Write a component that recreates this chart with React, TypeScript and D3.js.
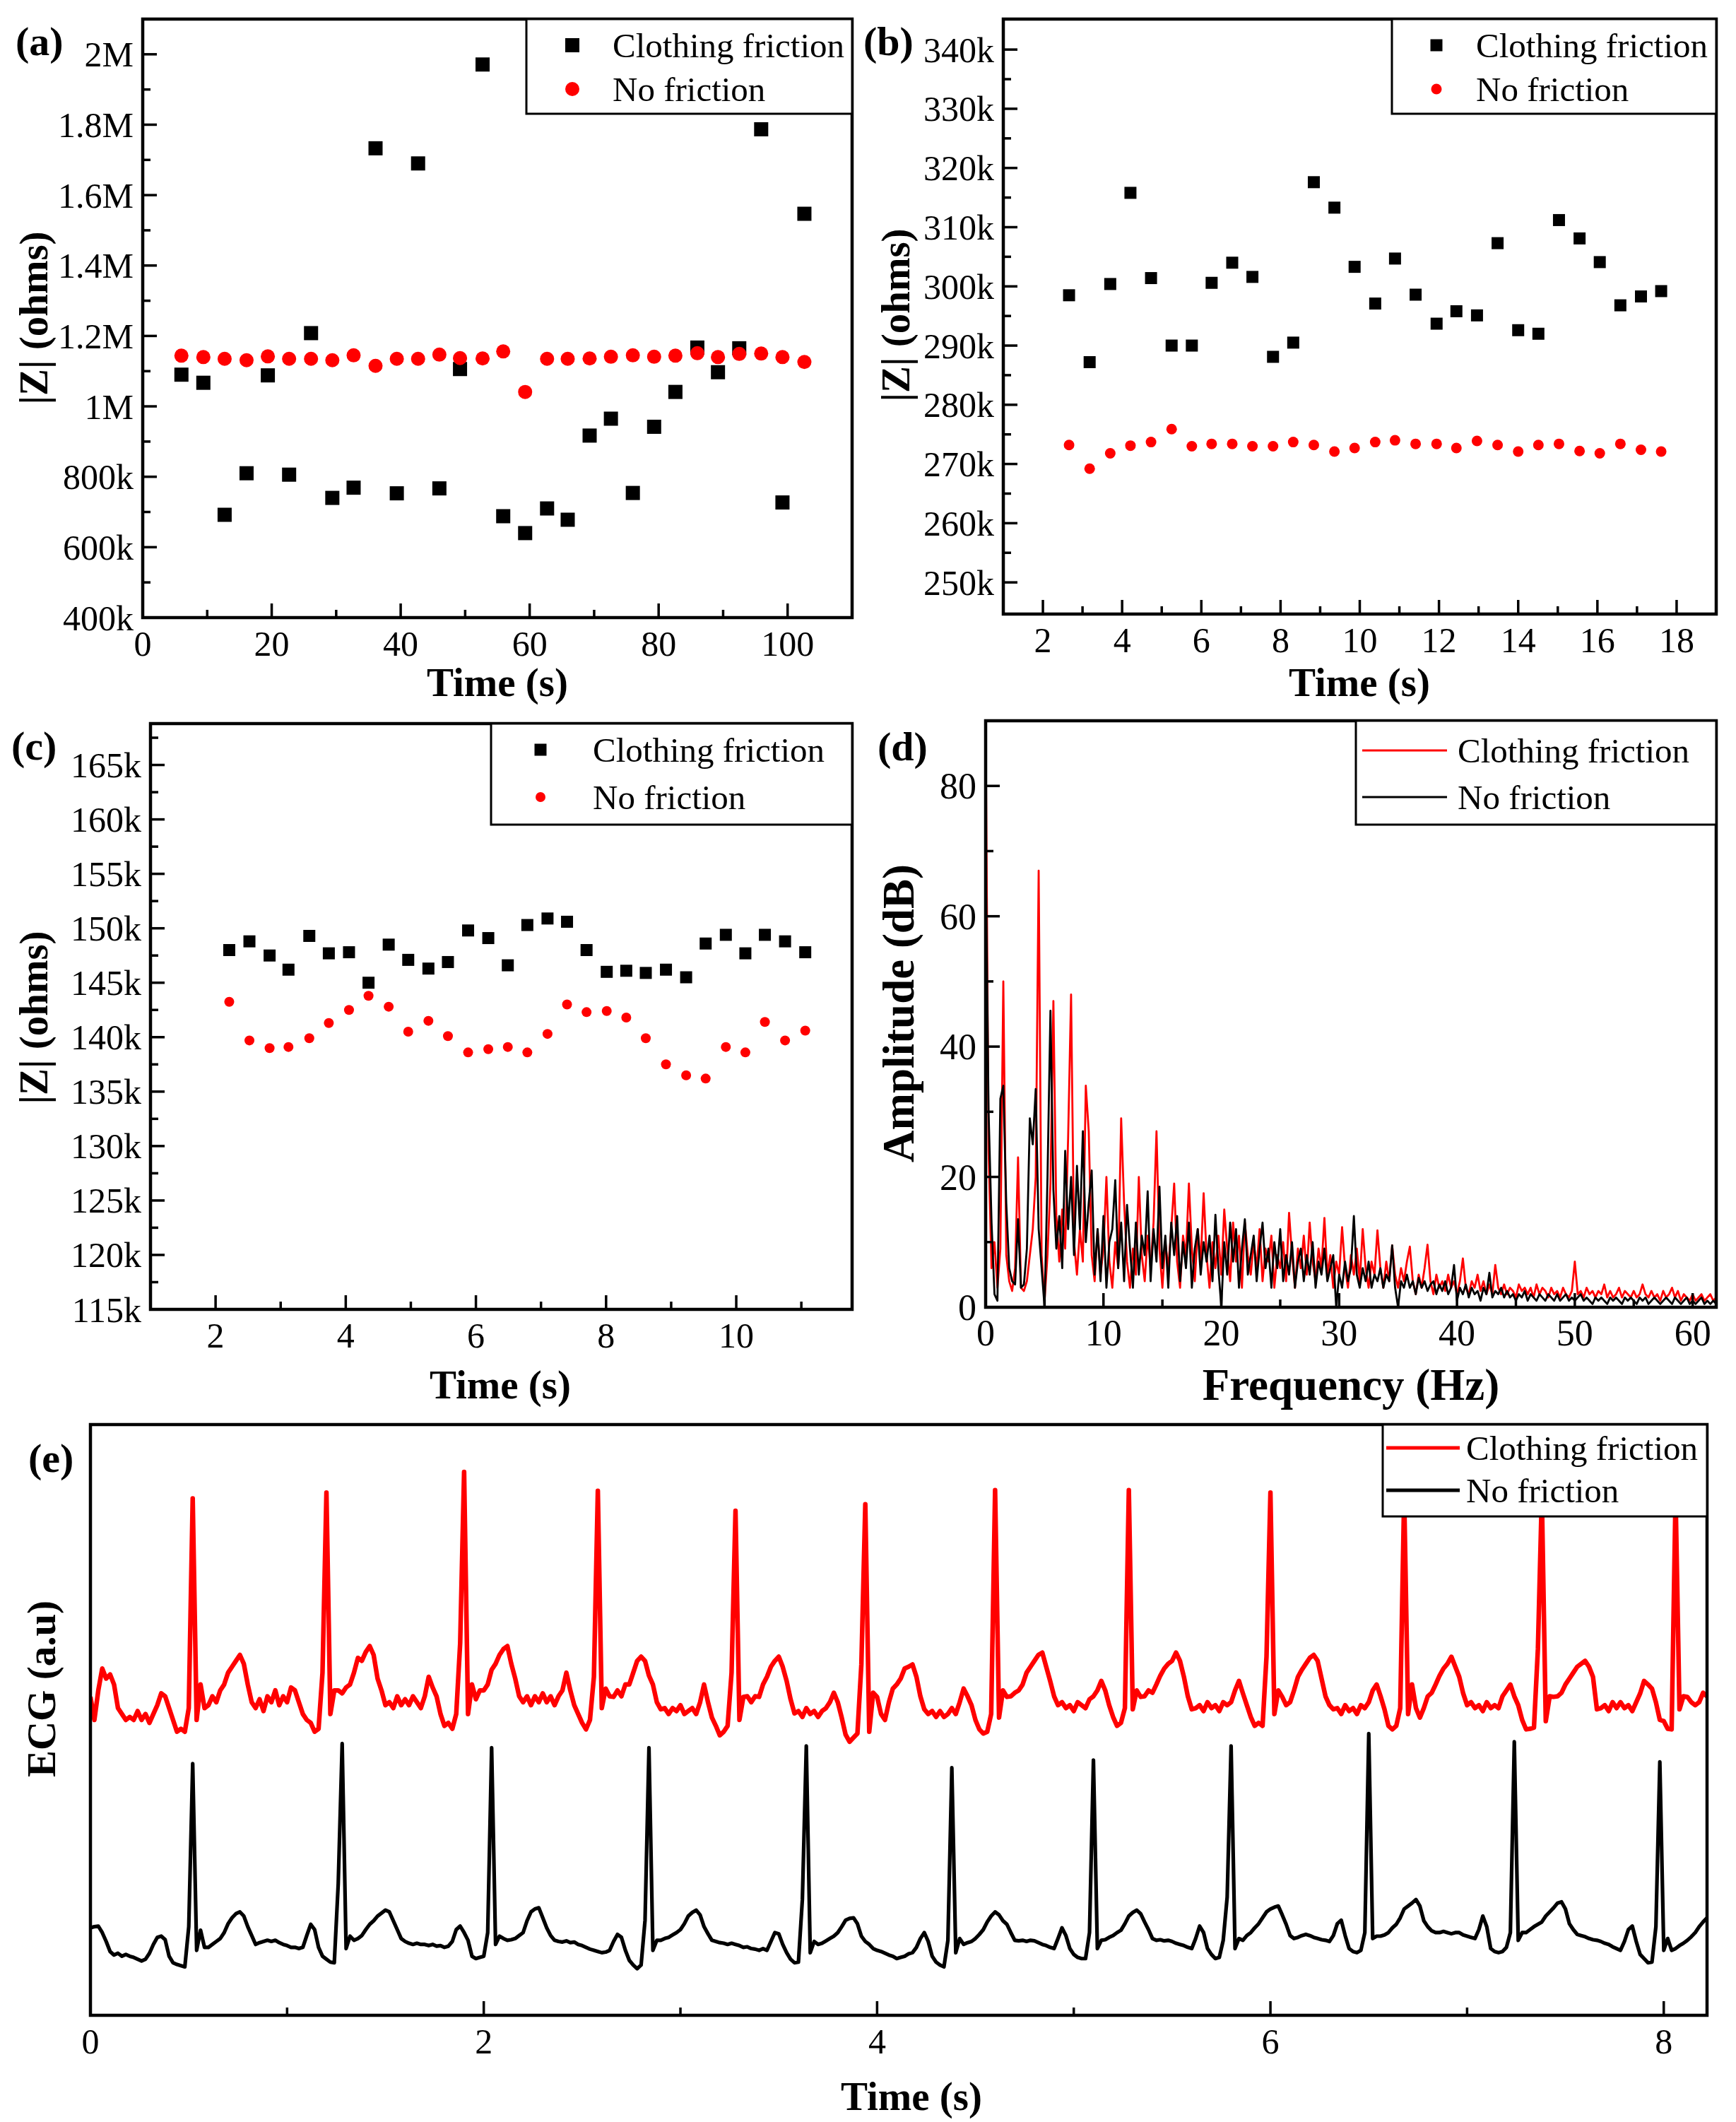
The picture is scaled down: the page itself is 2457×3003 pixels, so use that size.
import * as d3 from "d3";

const FONT = "'Liberation Serif', 'Times New Roman', serif";
const RED = "#ff0000";

// ---------- (a) long recording, |Z| in kOhm
const aTime = [6.0, 9.4, 12.7, 16.1, 19.4, 22.7, 26.1, 29.4, 32.7, 36.1, 39.4, 42.7, 46.0, 49.2, 52.7, 55.9, 59.3, 62.7, 65.9, 69.3, 72.6, 76.0, 79.3, 82.6, 86.0, 89.2, 92.5, 95.9, 99.2, 102.6];
const aCloth = [1090, 1067, 692, 810, 1088, 806, 1208, 740, 769, 1733, 753, 1690, 767, 1106, 1971, 688, 640, 710, 678, 917, 965, 754, 942, 1041, 1167, 1097, 1165, 1787, 727, 1547];
const aNoFric = [1144, 1140, 1135, 1131, 1142, 1135, 1135, 1131, 1145, 1115, 1135, 1135, 1147, 1137, 1136, 1156, 1041, 1135, 1135, 1136, 1141, 1145, 1141, 1144, 1151, 1140, 1149, 1150, 1140, 1126];
const aXTicks = [0, 20, 40, 60, 80, 100];
const aXMinor = [10, 30, 50, 70, 90];
const aYTicks = [400, 600, 800, 1000, 1200, 1400, 1600, 1800, 2000];
const aYLabels = ["400k", "600k", "800k", "1M", "1.2M", "1.4M", "1.6M", "1.8M", "2M"];
const aYMinor = [500, 700, 900, 1100, 1300, 1500, 1700, 1900];

// ---------- (b)
const bTime = [2.66, 3.18, 3.70, 4.21, 4.73, 5.25, 5.76, 6.26, 6.78, 7.29, 7.81, 8.32, 8.84, 9.36, 9.87, 10.39, 10.89, 11.41, 11.94, 12.44, 12.96, 13.48, 14.00, 14.51, 15.03, 15.55, 16.06, 16.58, 17.10, 17.61];
const bCloth = [298.5, 287.2, 300.4, 315.8, 301.4, 290.0, 290.0, 300.6, 304.0, 301.6, 288.1, 290.5, 317.6, 313.3, 303.3, 297.1, 304.7, 298.6, 293.7, 295.8, 295.1, 307.3, 292.6, 292.0, 311.2, 308.1, 304.1, 296.8, 298.3, 299.2];
const bNoFric = [273.2, 269.2, 271.8, 273.1, 273.7, 275.9, 273.0, 273.4, 273.4, 273.0, 273.0, 273.7, 273.2, 272.1, 272.7, 273.7, 274.0, 273.4, 273.4, 272.7, 273.9, 273.2, 272.1, 273.2, 273.4, 272.2, 271.8, 273.4, 272.4, 272.1];
const bXTicks = [2, 4, 6, 8, 10, 12, 14, 16, 18];
const bXMinor = [3, 5, 7, 9, 11, 13, 15, 17];
const bYTicks = [250, 260, 270, 280, 290, 300, 310, 320, 330, 340];
const bYLabels = ["250k", "260k", "270k", "280k", "290k", "300k", "310k", "320k", "330k", "340k"];
const bYMinor = [255, 265, 275, 285, 295, 305, 315, 325, 335];

// ---------- (c)
const cTime = [2.21, 2.52, 2.83, 3.12, 3.44, 3.74, 4.05, 4.35, 4.66, 4.96, 5.27, 5.57, 5.88, 6.19, 6.49, 6.79, 7.10, 7.40, 7.70, 8.01, 8.31, 8.61, 8.92, 9.23, 9.53, 9.84, 10.14, 10.44, 10.75, 11.06];
const cCloth = [148.0, 148.8, 147.5, 146.2, 149.3, 147.7, 147.8, 145.0, 148.5, 147.1, 146.3, 146.9, 149.8, 149.1, 146.6, 150.3, 150.9, 150.6, 148.0, 146.0, 146.1, 145.9, 146.2, 145.5, 148.6, 149.4, 147.7, 149.4, 148.8, 147.8];
const cNoFric = [143.25, 139.7, 139.0, 139.1, 139.9, 141.3, 142.5, 143.8, 142.8, 140.5, 141.5, 140.1, 138.6, 138.9, 139.1, 138.6, 140.3, 143.0, 142.3, 142.4, 141.8, 139.9, 137.5, 136.5, 136.2, 139.1, 138.6, 141.4, 139.7, 140.6];
const cXTicks = [2, 4, 6, 8, 10];
const cXMinor = [3, 5, 7, 9, 11];
const cYTicks = [115, 120, 125, 130, 135, 140, 145, 150, 155, 160, 165];
const cYLabels = ["115k", "120k", "125k", "130k", "135k", "140k", "145k", "150k", "155k", "160k", "165k"];
const cYMinor = [117.5, 122.5, 127.5, 132.5, 137.5, 142.5, 147.5, 152.5, 157.5, 162.5, 167.5];

// ---------- (d) amplitude spectrum, one value every 0.25 Hz from 0 to 62 Hz
const specStep = 0.25;
const specCloth = [
  90, 24, 6, 10, 3, 9, 50, 8, 4, 2.5, 6, 23, 3, 2.5, 4, 8, 12, 20, 67, 8,
  1, 8, 19, 47, 14, 7, 15, 9, 26, 48, 10, 5, 12, 7, 34, 27, 8, 4, 12, 5,
  9, 20, 7, 3, 10, 6, 29, 16, 7, 3, 9, 5, 20, 8, 4, 11, 6, 13, 27, 9,
  3, 10, 6, 12, 19, 7, 3, 11, 8, 19, 9, 4, 12, 7, 17.5, 8, 3, 10, 6, 11,
  5, 15, 9, 4, 13, 7, 11, 3, 13, 8, 5, 10, 6, 12, 4, 9, 7, 11, 3, 8,
  6, 10, 4, 14.5, 8, 3, 9, 6, 11, 5, 13, 7, 4, 9, 6, 13.7, 5, 8, 3, 7,
  5, 12.3, 6, 3, 8, 5, 9, 4, 12, 6, 3, 7, 5, 11.8, 6, 3, 7, 4, 9.5, 5,
  3, 6, 4, 7, 9.3, 4, 2, 5, 3, 6, 9.6, 4, 2, 5, 3, 4, 2.5, 5, 3, 4,
  2, 4, 7.5, 3, 2, 4, 3, 5, 2.5, 4, 2, 3.5, 2, 6.5, 3, 2, 3.5, 2, 3, 2.5,
  1.5, 3.5, 2.5, 3, 2, 3, 1.5, 3.5, 2, 3, 2.5, 1.5, 3, 2, 2.5, 1.5, 3, 2, 1.5, 2.5,
  7, 2, 2.5, 1.5, 3, 2, 2.5, 1.5, 2.5, 2, 3.5, 1.5, 2.5, 1.5, 2, 3, 1.5, 2.5, 2, 1.5,
  2.5, 1.5, 2, 3.5, 2, 1.5, 2.5, 1.5, 2, 1, 2.5, 1.5, 2, 3, 1.5, 2.5, 1, 2, 1.5, 1,
  2, 1, 1.5, 2, 1, 1.5, 2, 1, 1.5,
];
const specNoFric = [
  70, 30, 13, 2, 1, 32, 34, 16, 6, 4, 3.5, 13.5, 3, 3.5, 9, 29, 25, 33.5, 12, 6,
  0, 20, 45.5, 18, 9, 14, 6, 24, 12, 20, 8, 21.7, 12, 27, 10, 16, 21, 5, 12, 4,
  14, 3, 10, 12, 19.5, 6, 13, 4, 15.7, 9, 3, 13, 5, 11, 8, 17.8, 4, 12, 7, 18.5,
  6, 11, 3, 13, 8, 14, 4, 10, 6, 13, 3, 9, 12, 5, 10, 7, 11, 4, 14.2, 6,
  0, 10, 5, 13, 7, 12, 3, 9, 13.5, 5, 8, 11, 4, 9, 13, 6, 9, 3, 10, 6,
  12, 4, 8, 5, 10, 3, 7, 9, 4, 8, 5, 10, 3, 7, 5, 9, 4, 6, 8, 0,
  5, 3, 7, 4, 6, 14, 5, 3, 6, 4, 7, 3, 5, 4, 6, 3, 5, 4, 9.5, 3,
  0, 4, 3, 5, 3, 4, 2, 4.5, 3, 4, 2.5, 3.5, 4, 2, 3.5, 2.5, 4, 2, 3, 6.5,
  1, 3, 2, 3.5, 1.5, 3, 2, 2.5, 1, 3, 2, 5.3, 1.5, 2.5, 2, 3, 1.5, 2.5, 1.5, 2,
  1, 2, 1.5, 2.5, 1, 2, 1.5, 1, 2, 1.5, 1, 2, 1.5, 1, 2, 1, 1.5, 2, 1, 1.5,
  1, 1.5, 2, 1, 1.5, 1, 0.5, 1.5, 1, 1.5, 1, 0.5, 1.5, 1, 1.5, 1, 0.5, 1.5, 1, 1.5,
  1, 0.5, 1.5, 1, 1.5, 0.5, 1, 1.5, 1, 0.5, 1, 1.5, 1, 0.5, 1.5, 1, 0.5, 1, 1.5, 0.5,
  1, 0.5, 1, 1.5, 0.5, 1, 0.5, 1, 0.5,
];
const dXTicks = [0, 10, 20, 30, 40, 50, 60];
const dXMinor = [5, 15, 25, 35, 45, 55];
const dYTicks = [0, 20, 40, 60, 80];
const dYMinor = [10, 30, 50, 70];

// ---------- (e) ECG traces (a.u.), one sample every 0.02 s
const ecgStep = 0.02;
const ecgCloth = [
  53.9, 50, 55, 58.7, 57, 57.7, 56, 52, 51, 50,
  50.5, 50, 51.5, 50, 51, 49.5, 51, 52.5, 54.5, 54,
  52, 50, 48, 48.5, 48, 52, 87.5, 50, 56, 52,
  52.5, 54, 53, 55, 56, 58, 59, 60, 61, 59.5,
  56, 53, 52, 53.5, 51.5, 54, 53, 55, 52.5, 54,
  53, 55.5, 55, 53, 51, 50, 49.5, 48, 48.5, 58,
  88.5, 51, 55, 55, 54.5, 55.5, 56, 58, 60.5, 60,
  61.5, 62.5, 61, 57, 55, 52.5, 53, 52, 54, 52.5,
  53.5, 52.5, 54, 53, 52, 54, 57.3, 55.5, 54, 51,
  49, 49.5, 48.5, 51, 63, 92, 51, 56, 53.5, 55,
  55, 56, 58.5, 59.5, 61, 62, 62.5, 59.5, 57, 54,
  53, 54, 52.5, 54, 53, 54.5, 53, 54, 52.5, 54,
  55, 58, 55, 52.5, 51, 49.5, 48.4, 50, 57.3, 88.8,
  52, 55.3, 54, 53.9, 55, 54, 56, 56, 58, 60,
  60.7, 60, 57.5, 56, 53, 51.8, 52, 51, 52, 51.5,
  52.5, 51, 51.5, 52, 51, 53, 56, 53, 50.4, 49,
  47.4, 48, 49, 58, 85.4, 50, 53.9, 54, 53, 54,
  53.9, 56, 57.3, 59, 60, 60.7, 59, 56.6, 53.5, 51.1,
  51.5, 50.5, 52, 51, 51.5, 50.5, 51.5, 52, 53, 54.6,
  53, 50.4, 47.5, 46.3, 47, 47.7, 59.4, 86.5, 48, 54.6,
  53.9, 51, 50, 53, 55.3, 56, 57, 58.7, 59, 59.4,
  57.3, 54, 51.8, 51, 51.5, 50.5, 51.5, 50.5, 51, 52,
  51, 53, 55.3, 54, 52.5, 50, 48.4, 47.7, 48, 51,
  88.9, 50.4, 55, 53.9, 54, 54.6, 55, 56, 58, 59,
  60, 61, 61.4, 59, 56.6, 54, 52.5, 53, 52, 52.5,
  51.5, 53, 52.5, 52, 53.5, 54, 55, 56.6, 55, 52.5,
  50.5, 49, 49.5, 52, 88.9, 51.8, 55, 53.9, 54, 55,
  54.6, 56, 57.5, 58.7, 59.5, 60, 61.4, 60, 57.3, 54,
  51.8, 52, 52.5, 51.5, 53, 52, 52.5, 51.5, 53, 52.5,
  53, 55, 56.6, 54.5, 52.5, 50.5, 49, 49.5, 49, 60.7,
  88.5, 51, 55, 53.9, 52.5, 53, 55, 57.3, 58.5, 59.5,
  60.5, 61, 60, 57, 54, 52.5, 51.8, 52, 51, 52.5,
  51.5, 52, 51, 52.5, 52, 53, 55, 56, 54, 51.8,
  49, 48.4, 49, 52, 88, 51, 56, 52, 50.4, 52,
  54, 54.6, 56, 57.5, 58.7, 59.5, 60.7, 59, 57.3, 54.5,
  52.5, 53, 52, 52.5, 51.5, 53, 52, 52.5, 52, 54,
  55, 56, 54, 52.5, 50, 48.4, 48.5, 48.7, 62, 88,
  49.8, 54, 53.9, 54, 54.6, 56, 57, 58, 59, 59.5,
  60, 59, 57.3, 51.8, 52, 52.5, 51.5, 53, 52, 53,
  52, 52.5, 51.5, 53, 54.5, 56.6, 56, 55.3, 53, 50,
  49.8, 48.5, 48.4, 88, 51.8, 54, 53.9, 53, 52.5, 53,
  54.6, 54,
];
const ecgNoFric = [
  14.8, 15, 15.1, 14, 12.5, 10.8, 10.2, 10.5, 10, 10.3,
  10, 9.8, 9.5, 9.2, 9.5, 10.5, 12, 13.2, 13.4, 12.8,
  10, 8.9, 8.6, 8.4, 8.2, 15, 42.6, 11, 14.4, 11.5,
  11.5, 12, 12.5, 13, 14, 15.5, 16.5, 17.2, 17.5, 16.8,
  15, 13.5, 12, 12.3, 12.5, 12.7, 12.5, 12.7, 12.3, 12,
  11.8, 11.5, 11.5, 11.3, 11.5, 13.5, 15.4, 14.5, 11.5, 10,
  9.5, 9, 8.9, 22.3, 46, 11.3, 13.4, 12.7, 13, 13.5,
  14.5, 15.4, 16, 16.8, 17.3, 17.8, 17.5, 16, 14.5, 13,
  12.5, 12.2, 12, 12.2, 12, 12, 11.8, 12, 11.7, 11.8,
  11.5, 11.7, 12.5, 14.5, 15.1, 14, 12.7, 10, 9.6, 9.8,
  10, 14, 45.3, 12, 13.4, 13, 12.7, 12.8, 13, 13.5,
  14, 16, 17.5, 18, 18.2, 16.5, 14.8, 13.5, 12.7, 12.5,
  12.4, 12.6, 12.3, 12.4, 12, 11.8, 11.5, 11.2, 11, 10.8,
  10.6, 10.7, 11, 12.5, 13.7, 13.2, 11, 9.3, 8.5, 7.9,
  8.5, 16.1, 45.3, 11, 12.7, 12.7, 13, 13.2, 13.6, 14,
  14.5, 15.5, 16.8, 17.4, 17.8, 17, 15, 13.8, 12.7, 12.5,
  12.3, 12.2, 12, 12.2, 12, 11.8, 11.5, 11.6, 11.3, 11.2,
  11, 11.3, 11, 12.5, 14, 13.8, 12, 10.6, 9.5, 8.9,
  9, 19.6, 45.6, 10.6, 12.5, 12, 12.2, 12.6, 13, 13.4,
  14, 15, 16.1, 16.4, 16.5, 15.5, 13.4, 12.5, 12, 11.3,
  11, 10.8, 10.5, 10.2, 10, 9.6, 9.8, 10, 10.4, 10.6,
  11.5, 13, 14, 12.5, 10, 9, 8.5, 8.2, 12.7, 41.9,
  10.6, 13, 12, 12.3, 12.5, 13, 13.7, 14.5, 15.8, 16.8,
  17.5, 17, 16, 15.4, 14, 12.7, 12.6, 12.7, 12.5, 12.7,
  12.6, 12.3, 12, 11.8, 11.5, 11.3, 13, 14.8, 13.5, 11.3,
  10.3, 9.8, 9.6, 9.6, 14, 43.2, 11.3, 12.7, 12.8, 13.2,
  13.5, 14, 14.4, 15.5, 16.8, 17.4, 17.8, 17.2, 15.8, 14.5,
  13, 12.7, 12.8, 12.6, 12.7, 12.5, 12.2, 12, 11.8, 11.5,
  11.3, 13, 15.1, 14, 11.3, 10.3, 9.6, 9.8, 12.7, 20,
  45.6, 11.3, 13, 12.7, 13.5, 14, 14.8, 15.5, 16.5, 17.5,
  18, 18.3, 18.5, 17, 15.4, 13.5, 13, 13.2, 13.5, 13.7,
  13.5, 13.2, 13, 12.8, 12.7, 12.5, 13.5, 15.5, 16.1, 13.5,
  11.3, 10.8, 10.6, 11, 14, 47.7, 13, 13.4, 13.4, 13.6,
  14, 14.8, 15.4, 16.5, 18, 18.5, 19, 19.6, 18.5, 16,
  15, 14.3, 14, 14, 14.2, 14, 13.8, 14, 14, 13.6,
  13.4, 13.2, 13, 14.5, 16.8, 15, 11.3, 10.8, 10.6, 10.8,
  11.5, 14, 46.3, 12.7, 14, 14, 14.5, 15, 15.4, 15.8,
  16.8, 17.5, 18.2, 19, 19.2, 18, 15.5, 14.5, 13.7, 13.5,
  13.3, 13, 12.8, 12.7, 12.5, 12.2, 12, 11.6, 11.3, 11,
  12.5, 14.5, 15.1, 12.5, 10.3, 9.6, 8.9, 9, 15, 42.9,
  11, 13, 11, 11.3, 11.8, 12.2, 12.7, 13.3, 14, 15,
  15.8, 16.5,
];
const eXTicks = [0, 2, 4, 6, 8];
const eXMinor = [1, 3, 5, 7];

const seriesNames = ["Clothing friction", "No friction"];

type Box = { x0: number; x1: number; y0: number; y1: number };

function Axes({ box, x, y, xTicks, xLabels, xMinor, yTicks, yLabels, yMinor, fs = 50 }: any) {
  const TL = 20, TM = 11, SW = 3.5;
  return (
    <g fontFamily={FONT} fill="#000">
      {xMinor.map((t: number) => (
        <line key={"xm" + t} x1={x(t)} x2={x(t)} y1={box.y1} y2={box.y1 - TM} stroke="#000" strokeWidth={SW} />
      ))}
      {xTicks.map((t: number, i: number) => (
        <g key={"xt" + t}>
          <line x1={x(t)} x2={x(t)} y1={box.y1} y2={box.y1 - TL} stroke="#000" strokeWidth={SW} />
          <text x={x(t)} y={box.y1 + 54} textAnchor="middle" fontSize={fs}>{xLabels[i]}</text>
        </g>
      ))}
      {yMinor.map((t: number) => (
        <line key={"ym" + t} x1={box.x0} x2={box.x0 + TM} y1={y(t)} y2={y(t)} stroke="#000" strokeWidth={SW} />
      ))}
      {yTicks.map((t: number, i: number) => (
        <g key={"yt" + t}>
          <line x1={box.x0} x2={box.x0 + TL} y1={y(t)} y2={y(t)} stroke="#000" strokeWidth={SW} />
          <text x={box.x0 - 13} y={y(t)} dy="0.35em" textAnchor="end" fontSize={fs}>{yLabels[i]}</text>
        </g>
      ))}
      <rect x={box.x0} y={box.y0} width={box.x1 - box.x0} height={box.y1 - box.y0} fill="none" stroke="#000" strokeWidth={4.5} />
    </g>
  );
}

function Legend({ lg, kind, sq = 18, r = 8, lw = 3 }: any) {
  const rows = [lg.r1, lg.r2];
  return (
    <g fontFamily={FONT}>
      <rect x={lg.x0} y={lg.y0} width={lg.x1 - lg.x0} height={lg.y1 - lg.y0} fill="#fff" stroke="#000" strokeWidth={3} />
      {kind === "marker" ? (
        <>
          <rect x={lg.mx - sq / 2} y={rows[0] - sq / 2} width={sq} height={sq} fill="#000" />
          <circle cx={lg.mx} cy={rows[1]} r={r} fill={RED} />
        </>
      ) : (
        <>
          <line x1={lg.lx0} x2={lg.lx1} y1={rows[0]} y2={rows[0]} stroke={RED} strokeWidth={lw} />
          <line x1={lg.lx0} x2={lg.lx1} y1={rows[1]} y2={rows[1]} stroke="#000" strokeWidth={lw} />
        </>
      )}
      {seriesNames.map((s, i) => (
        <text key={s} x={lg.tx} y={rows[i]} dy="0.35em" fontSize={49}>{s}</text>
      ))}
    </g>
  );
}

function Titles({ label, xTitle, yTitle, fs = 57 }: any) {
  return (
    <g fontFamily={FONT} fontWeight="bold">
      <text x={label.x} y={label.y} fontSize={58}>{label.text}</text>
      <text x={xTitle.x} y={xTitle.y} textAnchor="middle" fontSize={fs}>{xTitle.text}</text>
      <text x={yTitle.x} y={yTitle.y} dy="0.35em" textAnchor="middle" fontSize={fs}
        transform={`rotate(-90, ${yTitle.x}, ${yTitle.y})`}>{yTitle.text}</text>
    </g>
  );
}

function ScatterPanel(p: any) {
  const box: Box = p.box;
  const x = d3.scaleLinear().domain(p.xDomain).range([box.x0, box.x1]);
  const y = d3.scaleLinear().domain(p.yDomain).range([box.y1, box.y0]);
  return (
    <g>
      <Axes box={box} x={x} y={y} xTicks={p.xTicks} xLabels={p.xTicks.map(String)} xMinor={p.xMinor}
        yTicks={p.yTicks} yLabels={p.yLabels} yMinor={p.yMinor} />
      {p.time.map((t: number, i: number) => (
        <rect key={"s" + i} x={x(t) - p.sq / 2} y={y(p.cloth[i]) - p.sq / 2} width={p.sq} height={p.sq} fill="#000" />
      ))}
      {p.time.map((t: number, i: number) => (
        <circle key={"c" + i} cx={x(t)} cy={y(p.noFric[i])} r={p.r} fill={RED} />
      ))}
      <Legend lg={p.legend} kind="marker" sq={p.legendSq} r={p.legendR} />
      <Titles label={p.label} xTitle={{ ...p.xTitle, text: "Time (s)" }} yTitle={{ ...p.yTitle, text: "|Z| (ohms)" }} />
    </g>
  );
}

function SpectrumPanel() {
  const box: Box = { x0: 1395, x1: 2429, y0: 1020, y1: 1850 };
  const x = d3.scaleLinear().domain([0, 62]).range([box.x0, box.x1]);
  const y = d3.scaleLinear().domain([0, 90]).range([box.y1, box.y0]);
  const line = d3.line<number>().x((_, i) => x(i * specStep)).y((v) => y(v));
  return (
    <g>
      <clipPath id="clipD"><rect x={box.x0} y={box.y0} width={box.x1 - box.x0} height={box.y1 - box.y0} /></clipPath>
      <g clipPath="url(#clipD)" fill="none" strokeLinejoin="round">
        <path d={line(specCloth) || ""} stroke={RED} strokeWidth={2.8} />
        <path d={line(specNoFric) || ""} stroke="#000" strokeWidth={2.8} />
      </g>
      <Axes box={box} x={x} y={y} xTicks={dXTicks} xLabels={dXTicks.map(String)} xMinor={dXMinor}
        yTicks={dYTicks} yLabels={dYTicks.map(String)} yMinor={dYMinor} fs={52} />
      <Legend lg={{ x0: 1919, x1: 2429, y0: 1020, y1: 1167, lx0: 1928, lx1: 2048, tx: 2063, r1: 1062, r2: 1128 }} kind="line" lw={2.8} />
      <Titles label={{ x: 1242, y: 1076, text: "(d)" }}
        xTitle={{ x: 1912, y: 1981, text: "Frequency (Hz)" }}
        yTitle={{ x: 1271, y: 1434, text: "Amplitude (dB)" }} fs={63} />
    </g>
  );
}

function EcgPanel() {
  const box: Box = { x0: 128, x1: 2416, y0: 2016, y1: 2852 };
  const x = d3.scaleLinear().domain([0, 8.22]).range([box.x0, box.x1]);
  const y = d3.scaleLinear().domain([0, 100]).range([box.y1, box.y0]);
  const line = d3.line<number>().x((_, i) => x(i * ecgStep)).y((v) => y(v));
  return (
    <g>
      <clipPath id="clipE"><rect x={box.x0} y={box.y0} width={box.x1 - box.x0} height={box.y1 - box.y0} /></clipPath>
      <g clipPath="url(#clipE)" fill="none" strokeLinejoin="round">
        <path d={line(ecgCloth) || ""} stroke={RED} strokeWidth={6.5} />
        <path d={line(ecgNoFric) || ""} stroke="#000" strokeWidth={5.2} />
      </g>
      <Axes box={box} x={x} y={y} xTicks={eXTicks} xLabels={eXTicks.map(String)} xMinor={eXMinor}
        yTicks={[]} yLabels={[]} yMinor={[]} />
      <Legend lg={{ x0: 1957, x1: 2416, y0: 2016, y1: 2146, lx0: 1962, lx1: 2066, tx: 2075, r1: 2049, r2: 2109 }} kind="line" lw={5} />
      <Titles label={{ x: 40, y: 2083, text: "(e)" }}
        xTitle={{ x: 1290, y: 2986, text: "Time (s)" }}
        yTitle={{ x: 58, y: 2390, text: "ECG (a.u)" }} />
    </g>
  );
}

export default function App() {
  return (
    <svg width={2457} height={3003} viewBox="0 0 2457 3003" fontFamily={FONT}
      style={{ position: "absolute", left: 0, top: 0, display: "block" }}>
      <rect width={2457} height={3003} fill="#fff" />
      <ScatterPanel
        box={{ x0: 202, x1: 1206, y0: 27, y1: 874 }}
        xDomain={[0, 110]} yDomain={[400, 2100]}
        xTicks={aXTicks} xMinor={aXMinor} yTicks={aYTicks} yLabels={aYLabels} yMinor={aYMinor}
        time={aTime} cloth={aCloth} noFric={aNoFric} sq={20} r={10}
        legend={{ x0: 745, x1: 1206, y0: 27, y1: 161, mx: 810, tx: 867, r1: 64, r2: 126 }} legendSq={20} legendR={10}
        label={{ x: 22, y: 78, text: "(a)" }} xTitle={{ x: 704, y: 985 }} yTitle={{ x: 47, y: 450 }} />
      <ScatterPanel
        box={{ x0: 1420, x1: 2429, y0: 27, y1: 869 }}
        xDomain={[1, 19]} yDomain={[244.65, 345.15]}
        xTicks={bXTicks} xMinor={bXMinor} yTicks={bYTicks} yLabels={bYLabels} yMinor={bYMinor}
        time={bTime} cloth={bCloth} noFric={bNoFric} sq={17} r={7.5}
        legend={{ x0: 1970, x1: 2429, y0: 27, y1: 161, mx: 2033, tx: 2089, r1: 64, r2: 126 }} legendSq={17} legendR={7.5}
        label={{ x: 1222, y: 78, text: "(b)" }} xTitle={{ x: 1924, y: 985 }} yTitle={{ x: 1267, y: 446 }} />
      <ScatterPanel
        box={{ x0: 213, x1: 1206, y0: 1024, y1: 1853 }}
        xDomain={[1, 11.78]} yDomain={[115, 168.8]}
        xTicks={cXTicks} xMinor={cXMinor} yTicks={cYTicks} yLabels={cYLabels} yMinor={cYMinor}
        time={cTime} cloth={cCloth} noFric={cNoFric} sq={17} r={7}
        legend={{ x0: 695, x1: 1206, y0: 1024, y1: 1167, mx: 765, tx: 839, r1: 1061, r2: 1128 }} legendSq={17} legendR={7}
        label={{ x: 16, y: 1075, text: "(c)" }} xTitle={{ x: 708, y: 1979 }} yTitle={{ x: 47, y: 1440 }} />
      <SpectrumPanel />
      <EcgPanel />
    </svg>
  );
}
